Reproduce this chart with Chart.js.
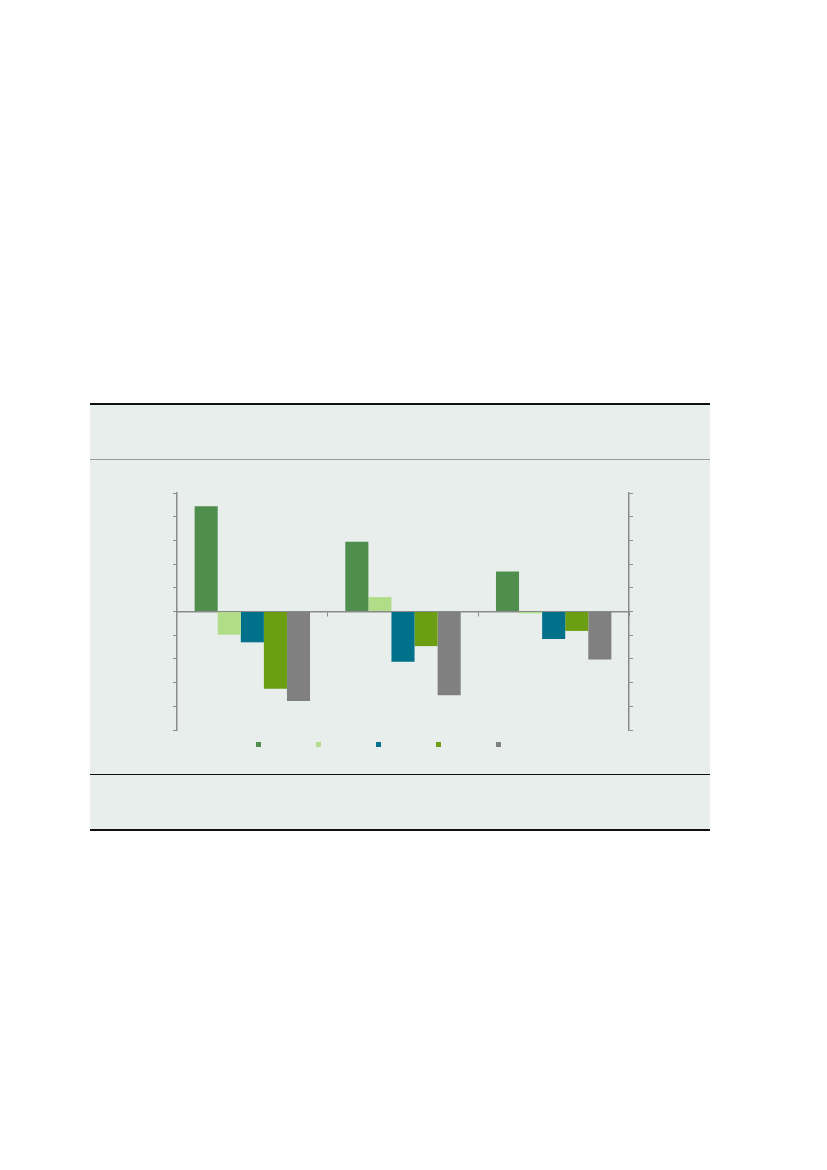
<!DOCTYPE html>
<html>
<head>
<meta charset="utf-8">
<script src="https://cdn.jsdelivr.net/npm/chart.js@4.4.1/dist/chart.umd.min.js"></script>
<style>
    body { margin: 0; background: #ffffff; font-family: "Noto Sans", sans-serif; }
    .panel {
        position: absolute;
        left: 90px;
        top: 403px;
        width: 620px;
        height: 428px;
        background: #e8eeec;
        border-top: 2px solid #111;
        border-bottom: 2px solid #111;
        box-sizing: border-box;
    }
    .rule-grey { position: absolute; left: 0; width: 620px; top: 54px; height: 1px; background: #999; }
    .rule-black { position: absolute; left: 0; width: 620px; top: 369px; height: 1px; background: #111; }
    .chart-box { position: absolute; left: 0; top: 55px; width: 620px; height: 301px; }
</style>
</head>
<body>
<div class="panel">
    <div class="rule-grey"></div>
    <div class="rule-black"></div>
    <div class="chart-box"><canvas id="barChart"></canvas></div>
</div>
<script>
// Data (no labels are printed on it)
const categories = ['1', '2', '3'];
const seriesNames = ['Series 1', 'Series 2', 'Series 3', 'Series 4', 'Series 5'];
const series1 = [4.44, 2.94, 1.69];
const series2 = [-0.98, 0.61, -0.08];
const series3 = [-1.30, -2.12, -1.16];
const series4 = [-3.26, -1.46, -0.82];
const series5 = [-3.78, -3.53, -2.03];
const yTicks = [-5, -4, -3, -2, -1, 0, 1, 2, 3, 4, 5];

const colors = ['#4f8e4d', '#b2dd88', '#00718a', '#6c9e14', '#808080'];
const axisGrey = '#8a8a8a';

// small square swatches for the legend
function swatch(color) {
    const c = document.createElement('canvas');
    c.width = 5;
    c.height = 5;
    const g = c.getContext('2d');
    g.fillStyle = color;
    g.fillRect(0, 0, 5, 5);
    return c;
}

const allSeries = [series1, series2, series3, series4, series5];
const datasets = allSeries.map((values, i) => ({
    label: seriesNames[i],
    data: values,
    backgroundColor: colors[i],
    borderWidth: 0
}));

const axisGrid = {
    drawOnChartArea: false,
    drawTicks: true,
    tickLength: 4,
    color: axisGrey
};

new Chart(document.getElementById('barChart'), {
    type: 'bar',
    data: { labels: categories, datasets: datasets },
    options: {
        responsive: true,
        maintainAspectRatio: false,
        animation: false,
        categoryPercentage: 0.766,
        barPercentage: 1,
        layout: { padding: { left: 0, right: 38, top: 33, bottom: 1 } },
        scales: {
            x: {
                position: { y: 0 },
                z: 1,
                grid: axisGrid,
                border: { display: true, color: axisGrey, width: 1.5 },
                ticks: { display: false }
            },
            y: {
                position: 'left',
                min: yTicks[0],
                max: yTicks[yTicks.length - 1],
                afterBuildTicks: scale => { scale.ticks = yTicks.map(v => ({ value: v })); },
                afterFit: scale => { scale.width = 87; },
                grid: axisGrid,
                border: { display: true, color: axisGrey, width: 1.5 },
                ticks: { display: false }
            },
            y2: {
                position: 'right',
                min: yTicks[0],
                max: yTicks[yTicks.length - 1],
                afterBuildTicks: scale => { scale.ticks = yTicks.map(v => ({ value: v })); },
                afterFit: scale => { scale.width = 43; },
                grid: axisGrid,
                border: { display: true, color: axisGrey, width: 1.5 },
                ticks: { display: false }
            }
        },
        plugins: {
            tooltip: { enabled: false },
            legend: {
                position: 'bottom',
                labels: {
                    usePointStyle: true,
                    pointStyleWidth: 46,
                    boxHeight: 5,
                    padding: 8,
                    font: { size: 12 },
                    generateLabels: chart => {
                        const items = Chart.defaults.plugins.legend.labels.generateLabels(chart);
                        items.forEach((item, i) => {
                            item.text = '';
                            item.pointStyle = swatch(colors[i]);
                        });
                        return items;
                    }
                }
            }
        }
    }
});
</script>
</body>
</html>
